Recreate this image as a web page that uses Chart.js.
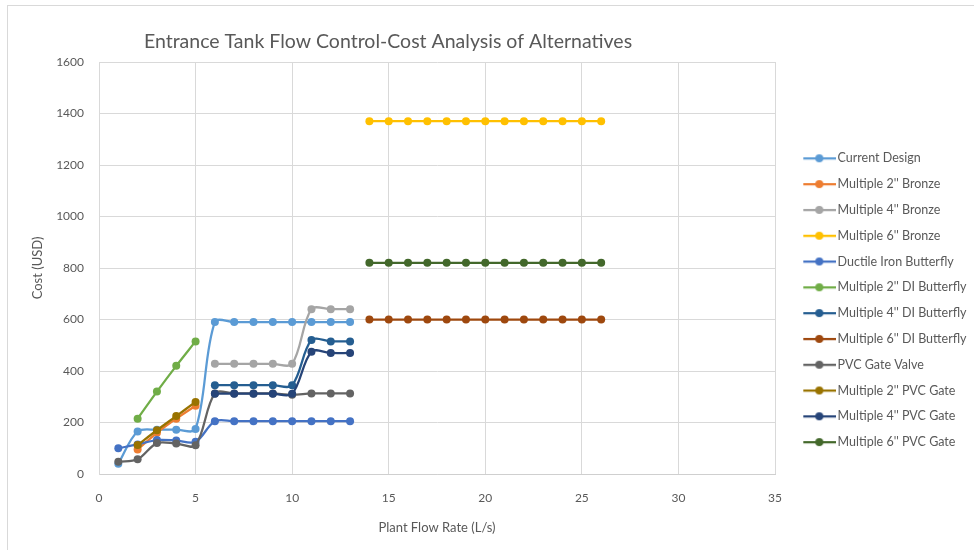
<!DOCTYPE html>
<html>
<head>
<meta charset="utf-8">
<script src="https://cdn.jsdelivr.net/npm/chart.js@4.4.1/dist/chart.umd.min.js"></script>
<style>
  html, body { margin: 0; padding: 0; background: #ffffff; }
  #wrap { width: 974px; height: 550px; position: relative; }
</style>
</head>
<body>
<div id="wrap"><canvas id="c" width="974" height="550"></canvas></div>
<script>
// ---- data ----
const flowAll   = [1, 2, 3, 4, 5, 6, 7, 8, 9, 10, 11, 12, 13];
const flowSmall = [2, 3, 4, 5];
const flowMid   = [6, 7, 8, 9, 10, 11, 12, 13];
const flowLarge = [14, 15, 16, 17, 18, 19, 20, 21, 22, 23, 24, 25, 26];

const seriesNames = [
  "Current Design",
  "Multiple 2'' Bronze",
  "Multiple 4'' Bronze",
  "Multiple 6'' Bronze",
  "Ductile Iron Butterfly",
  "Multiple 2'' DI Butterfly",
  "Multiple 4'' DI Butterfly",
  "Multiple 6'' DI Butterfly",
  "PVC Gate Valve",
  "Multiple 2'' PVC Gate",
  "Multiple 4'' PVC Gate",
  "Multiple 6'' PVC Gate"
];

const currentDesign   = [40, 165, 172, 172, 175, 590, 590, 590, 590, 590, 590, 590, 590];
const bronze2         = [95, 160, 215, 265];
const bronze4         = [428, 428, 428, 428, 428, 640, 640, 640];
const bronze6         = [1370, 1370, 1370, 1370, 1370, 1370, 1370, 1370, 1370, 1370, 1370, 1370, 1370];
const diButterfly     = [100, 115, 132, 130, 125, 205, 205, 205, 205, 205, 205, 205, 205];
const diButterfly2    = [215, 320, 420, 515];
const diButterfly4    = [345, 345, 345, 345, 345, 520, 515, 515];
const diButterfly6    = [600, 600, 600, 600, 600, 600, 600, 600, 600, 600, 600, 600, 600];
const pvcGateValve    = [48, 57, 120, 118, 112, 313, 313, 313, 313, 308, 313, 313, 313];
const pvcGate2        = [113, 170, 225, 280];
const pvcGate4        = [312, 312, 312, 312, 312, 475, 470, 470];
const pvcGate6        = [820, 820, 820, 820, 820, 820, 820, 820, 820, 820, 820, 820, 820];

const seriesValues = [currentDesign, bronze2, bronze4, bronze6, diButterfly, diButterfly2,
                      diButterfly4, diButterfly6, pvcGateValve, pvcGate2, pvcGate4, pvcGate6];
const seriesFlows  = [flowAll, flowSmall, flowMid, flowLarge, flowAll, flowSmall,
                      flowMid, flowLarge, flowAll, flowSmall, flowMid, flowLarge];

const xTicks = [0, 5, 10, 15, 20, 25, 30, 35];
const yTicks = [0, 200, 400, 600, 800, 1000, 1200, 1400, 1600];

const titleText = "Entrance Tank Flow Control-Cost Analysis of Alternatives";
const xTitle = "Plant Flow Rate (L/s)";
const yTitle = "Cost (USD)";

// ---- styles ----
const colors = ["#5B9BD5", "#ED7D31", "#A5A5A5", "#FFC000", "#4472C4", "#70AD47",
                "#255E91", "#9E480E", "#636363", "#997300", "#264478", "#43682B"];
const FONT = "Lato, 'Open Sans', sans-serif";
const TEXT = "#595959";
const GRID = "#d9d9d9";

// legend marker images (line with circle)
function legendImage(color) {
  const cv = document.createElement("canvas");
  cv.width = 53; cv.height = 12;
  const g = cv.getContext("2d");
  g.strokeStyle = color; g.lineWidth = 2.25;
  g.beginPath(); g.moveTo(20, 6); g.lineTo(53, 6); g.stroke();
  g.fillStyle = color;
  g.beginPath(); g.arc(36, 6, 4, 0, Math.PI * 2); g.fill();
  return cv;
}
const legendImgs = colors.map(legendImage);

const datasets = seriesNames.map((name, i) => ({
  label: name,
  data: seriesFlows[i].map((x, k) => ({ x: x, y: seriesValues[i][k] })),
  borderColor: colors[i],
  backgroundColor: colors[i],
  pointBackgroundColor: colors[i],
  pointBorderColor: colors[i],
  pointRadius: 4,
  pointBorderWidth: 0,
  borderWidth: 2.25,
  tension: 0.33,
  fill: false,
  order: seriesNames.length - i
}));

const TARGET = { left: 99, right: 775, top: 62, bottom: 474 };

const framePlugin = {
  id: "frame",
  beforeDraw(chart) {
    const ctx = chart.ctx;
    ctx.save();
    ctx.fillStyle = "#ffffff";
    ctx.fillRect(0, 0, chart.width, chart.height);
    ctx.strokeStyle = "#d9d9d9";
    ctx.lineWidth = 1;
    ctx.strokeRect(7.5, 5.5, chart.width + 10, chart.height + 10);
    ctx.restore();
  },
  afterLayout(chart) {
    if (chart.titleBlock) {
      chart.titleBlock.left = 0;
      chart.titleBlock.right = 776;
    }
  }
};

const chart = new Chart(document.getElementById("c"), {
  type: "line",
  data: { datasets: datasets },
  plugins: [framePlugin],
  options: {
    responsive: false,
    animation: false,
    events: [],
    layout: { padding: { left: 20, right: 6, top: 0, bottom: 10 } },
    plugins: {
      tooltip: { enabled: false },
      title: {
        display: true,
        text: titleText,
        color: TEXT,
        font: { family: FONT, size: 19.5, weight: "normal", lineHeight: 1.2 },
        padding: { top: 30, bottom: 8.6 }
      },
      legend: {
        position: "right",
        align: "center",
        title: {
          display: true,
          text: " ",
          font: { family: FONT, size: 12, lineHeight: 1.2 },
          padding: { top: 46, bottom: 0 }
        },
        labels: {
          color: TEXT,
          font: { family: FONT, size: 12.5 },
          usePointStyle: true,
          pointStyleWidth: 43,
          padding: 13.3,
          generateLabels(ch) {
            return ch.data.datasets.map((ds, i) => ({
              text: ds.label,
              fillStyle: colors[i],
              strokeStyle: colors[i],
              lineWidth: 0,
              pointStyle: legendImgs[i],
              hidden: false,
              datasetIndex: i,
              fontColor: TEXT
            }));
          }
        }
      }
    },
    scales: {
      x: {
        type: "linear",
        min: 0, max: 35,
        afterBuildTicks(s) { s.ticks = xTicks.map(v => ({ value: v })); },
        afterFit(s) { s.height = 66; },
        grid: { color: GRID, drawTicks: false, lineWidth: 1 },
        border: { color: "#cfcfcf", width: 1 },
        ticks: { color: TEXT, font: { family: FONT, size: 12 }, padding: 17,
                 callback: v => String(v) },
        title: {
          display: true, text: xTitle, color: TEXT,
          font: { family: FONT, size: 13, lineHeight: 1.2 },
          padding: { top: 0, bottom: 4 }
        }
      },
      y: {
        type: "linear",
        min: 0, max: 1600,
        afterBuildTicks(s) { s.ticks = yTicks.map(v => ({ value: v })); },
        afterFit(s) { s.width = 79; },
        grid: { color: GRID, drawTicks: false, lineWidth: 1 },
        border: { color: GRID, width: 1 },
        ticks: { color: TEXT, font: { family: FONT, size: 12 }, padding: 15,
                 callback: v => String(v) },
        title: {
          display: true, text: yTitle, color: TEXT,
          font: { family: FONT, size: 13, lineHeight: 1.2 },
          padding: { top: 10, bottom: 0 }
        }
      }
    }
  }
});

// correct right padding so plot area ends where the reference does
const dr = chart.chartArea.right - TARGET.right;
if (Math.abs(dr) > 0.5) {
  chart.options.layout.padding.right = 6 + dr;
  chart.update();
}
</script>
</body>
</html>
